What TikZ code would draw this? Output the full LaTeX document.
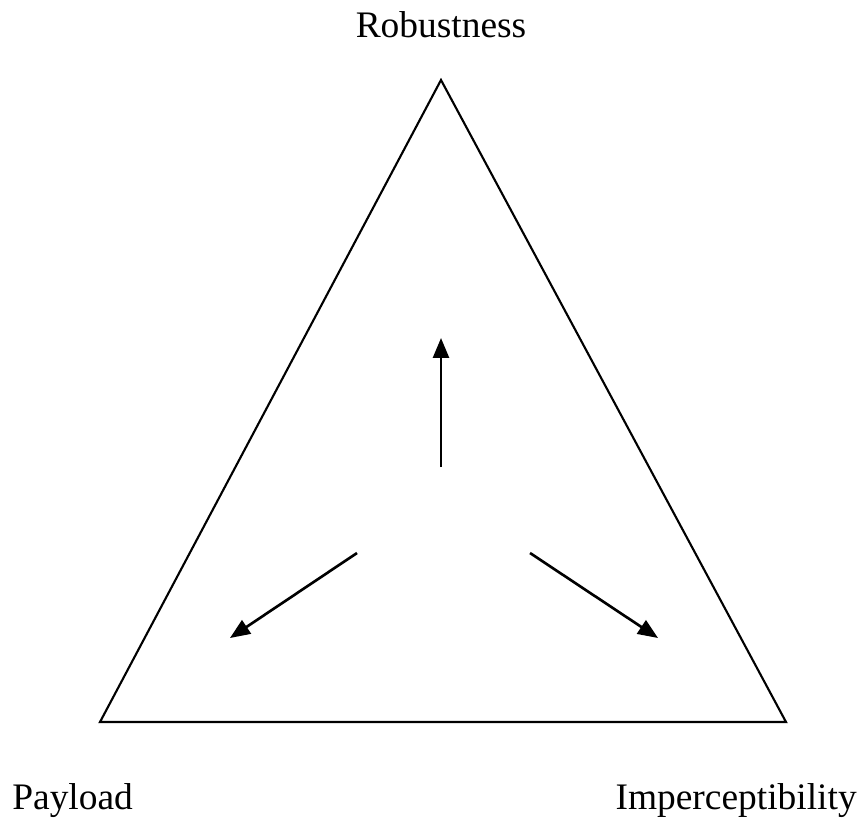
\documentclass[tikz,border=0pt]{standalone}
\usepackage{fontspec}
\setmainfont{Liberation Serif}
\usetikzlibrary{arrows.meta,positioning}

\begin{document}
\begin{tikzpicture}[
  x=0.02cm,y=-0.02cm,
  lbl/.style={font=\fontsize{21.3}{25}\selectfont,inner sep=0pt},
  edge/.style={line width=1.2pt,line join=miter},
  arr/.style={-{Triangle[length=0.4cm,width=0.32cm]},line width=1.5pt}
]
  \useasboundingbox (0,0) rectangle (859,818);

  \coordinate (top) at (441,80);
  \coordinate (left) at (100,722);
  \coordinate (right) at (786,722);
  \draw[edge] (top) -- (left) -- (right) -- cycle;

  \node[lbl,anchor=base] (rob) at (441,37) {Robustness};
  \node[lbl,anchor=base west] (pay) at (12,809) {Payload};
  \node[lbl,anchor=base east] (imp) at (857,809) {Imperceptibility};

  \coordinate (upA) at (441,467);
  \coordinate (upB) at (441,338);
  \coordinate (lfA) at (357,553);
  \coordinate (lfB) at (230,638);
  \coordinate (rtA) at (530,553);
  \coordinate (rtB) at (658,638);
  \draw[arr] (upA) -- (upB);
  \draw[arr] (lfA) -- (lfB);
  \draw[arr] (rtA) -- (rtB);
\end{tikzpicture}
\end{document}
